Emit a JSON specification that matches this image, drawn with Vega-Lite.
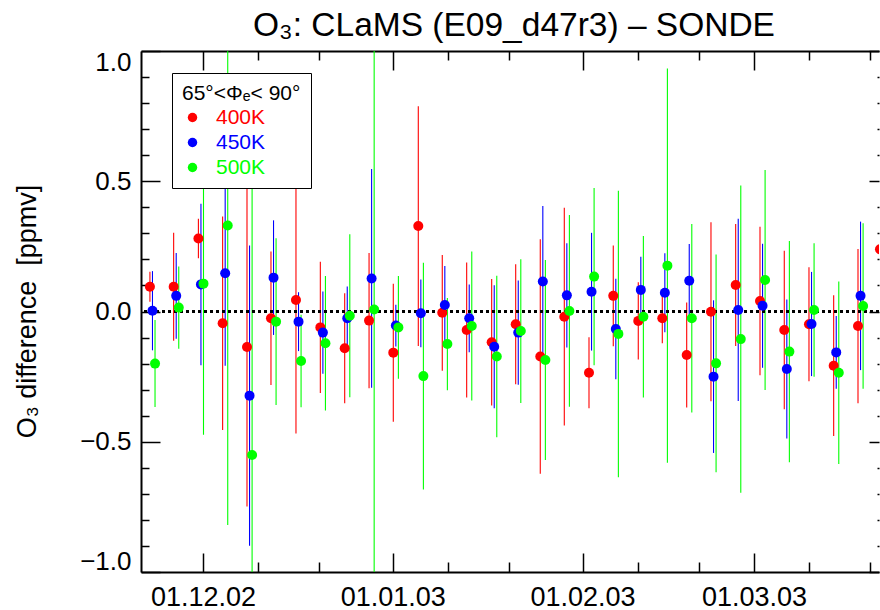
{
  "$schema": "https://vega.github.io/schema/vega-lite/v6.json",
  "width": 738,
  "height": 521,
  "autosize": {"type": "none"},
  "padding": {"left": 141, "top": 51, "right": 1, "bottom": 38},
  "background": "white",
  "title": {"text": "O₃: CLaMS (E09_d47r3) – SONDE", "font": "Liberation Sans", "fontSize": 33.5, "fontWeight": "normal", "color": "black", "anchor": "middle", "frame": "group", "dx": 4, "offset": -20, "baseline": "alphabetic"},
  "config": {
    "view": {"stroke": null},
    "font": "Liberation Sans",
    "axis": {"grid": false, "domainColor": "black", "domainWidth": 2, "tickColor": "black", "tickWidth": 1.5, "labelColor": "black", "titleColor": "black", "labelFont": "Liberation Sans", "titleFont": "Liberation Sans", "titleFontWeight": "normal"}
  },
  "datasets": {
    "obs": [
      {"date": "2002-11-22T08:00:00Z", "level": "400K", "value": 0.095, "lo": 0.037, "hi": 0.153},
      {"date": "2002-11-22T18:00:00Z", "level": "450K", "value": 0.003, "lo": -0.149, "hi": 0.155},
      {"date": "2002-11-23T04:00:00Z", "level": "500K", "value": -0.2, "lo": -0.367, "hi": -0.033},
      {"date": "2002-11-26T05:00:00Z", "level": "400K", "value": 0.095, "lo": -0.112, "hi": 0.302},
      {"date": "2002-11-26T15:00:00Z", "level": "450K", "value": 0.06, "lo": -0.105, "hi": 0.225},
      {"date": "2002-11-27T01:00:00Z", "level": "500K", "value": 0.015, "lo": -0.143, "hi": 0.173},
      {"date": "2002-11-30T06:00:00Z", "level": "400K", "value": 0.28, "lo": 0.204, "hi": 0.356},
      {"date": "2002-11-30T16:00:00Z", "level": "450K", "value": 0.104, "lo": -0.206, "hi": 0.414},
      {"date": "2002-12-01T02:00:00Z", "level": "500K", "value": 0.107, "lo": -0.473, "hi": 0.687},
      {"date": "2002-12-04T05:00:00Z", "level": "400K", "value": -0.045, "lo": -0.455, "hi": 0.365},
      {"date": "2002-12-04T15:00:00Z", "level": "450K", "value": 0.147, "lo": -0.208, "hi": 0.502},
      {"date": "2002-12-05T01:00:00Z", "level": "500K", "value": 0.33, "lo": -0.82, "hi": 1.48},
      {"date": "2002-12-08T04:30:00Z", "level": "400K", "value": -0.136, "lo": -0.749, "hi": 0.477},
      {"date": "2002-12-08T14:30:00Z", "level": "450K", "value": -0.323, "lo": -0.899, "hi": 0.253},
      {"date": "2002-12-09T00:30:00Z", "level": "500K", "value": -0.551, "lo": -1.651, "hi": 0.549},
      {"date": "2002-12-12T02:30:00Z", "level": "400K", "value": -0.026, "lo": -0.282, "hi": 0.23},
      {"date": "2002-12-12T12:30:00Z", "level": "450K", "value": 0.13, "lo": -0.09, "hi": 0.35},
      {"date": "2002-12-12T22:30:00Z", "level": "500K", "value": -0.039, "lo": -0.359, "hi": 0.281},
      {"date": "2002-12-16T04:30:00Z", "level": "400K", "value": 0.044, "lo": -0.468, "hi": 0.556},
      {"date": "2002-12-16T14:30:00Z", "level": "450K", "value": -0.039, "lo": -0.152, "hi": 0.074},
      {"date": "2002-12-17T00:30:00Z", "level": "500K", "value": -0.19, "lo": -0.368, "hi": -0.012},
      {"date": "2002-12-20T04:00:00Z", "level": "400K", "value": -0.061, "lo": -0.313, "hi": 0.191},
      {"date": "2002-12-20T14:00:00Z", "level": "450K", "value": -0.081, "lo": -0.239, "hi": 0.077},
      {"date": "2002-12-21T00:00:00Z", "level": "500K", "value": -0.122, "lo": -0.38, "hi": 0.136},
      {"date": "2002-12-24T03:30:00Z", "level": "400K", "value": -0.141, "lo": -0.352, "hi": 0.07},
      {"date": "2002-12-24T13:30:00Z", "level": "450K", "value": -0.026, "lo": -0.148, "hi": 0.096},
      {"date": "2002-12-24T23:30:00Z", "level": "500K", "value": -0.016, "lo": -0.329, "hi": 0.297},
      {"date": "2002-12-28T03:00:00Z", "level": "400K", "value": -0.035, "lo": -0.295, "hi": 0.225},
      {"date": "2002-12-28T13:00:00Z", "level": "450K", "value": 0.127, "lo": -0.293, "hi": 0.547},
      {"date": "2002-12-28T23:00:00Z", "level": "500K", "value": 0.008, "lo": -1.292, "hi": 1.308},
      {"date": "2003-01-01T02:00:00Z", "level": "400K", "value": -0.158, "lo": -0.423, "hi": 0.107},
      {"date": "2003-01-01T12:00:00Z", "level": "450K", "value": -0.054, "lo": -0.134, "hi": 0.026},
      {"date": "2003-01-01T22:00:00Z", "level": "500K", "value": -0.061, "lo": -0.258, "hi": 0.136},
      {"date": "2003-01-05T04:00:00Z", "level": "400K", "value": 0.328, "lo": -0.132, "hi": 0.788},
      {"date": "2003-01-05T14:00:00Z", "level": "450K", "value": -0.007, "lo": -0.137, "hi": 0.123},
      {"date": "2003-01-06T00:00:00Z", "level": "500K", "value": -0.248, "lo": -0.683, "hi": 0.187},
      {"date": "2003-01-09T02:00:00Z", "level": "400K", "value": -0.005, "lo": -0.227, "hi": 0.217},
      {"date": "2003-01-09T12:00:00Z", "level": "450K", "value": 0.025, "lo": -0.125, "hi": 0.175},
      {"date": "2003-01-09T22:00:00Z", "level": "500K", "value": -0.125, "lo": -0.302, "hi": 0.052},
      {"date": "2003-01-13T01:40:00Z", "level": "400K", "value": -0.071, "lo": -0.33, "hi": 0.188},
      {"date": "2003-01-13T11:40:00Z", "level": "450K", "value": -0.026, "lo": -0.156, "hi": 0.104},
      {"date": "2003-01-13T21:40:00Z", "level": "500K", "value": -0.056, "lo": -0.342, "hi": 0.23},
      {"date": "2003-01-17T03:40:00Z", "level": "400K", "value": -0.118, "lo": -0.361, "hi": 0.125},
      {"date": "2003-01-17T13:40:00Z", "level": "450K", "value": -0.135, "lo": -0.371, "hi": 0.101},
      {"date": "2003-01-17T23:40:00Z", "level": "500K", "value": -0.173, "lo": -0.483, "hi": 0.137},
      {"date": "2003-01-21T01:50:00Z", "level": "400K", "value": -0.049, "lo": -0.279, "hi": 0.181},
      {"date": "2003-01-21T11:50:00Z", "level": "450K", "value": -0.081, "lo": -0.281, "hi": 0.119},
      {"date": "2003-01-21T21:50:00Z", "level": "500K", "value": -0.075, "lo": -0.351, "hi": 0.201},
      {"date": "2003-01-25T02:10:00Z", "level": "400K", "value": -0.173, "lo": -0.623, "hi": 0.277},
      {"date": "2003-01-25T12:10:00Z", "level": "450K", "value": 0.115, "lo": -0.175, "hi": 0.405},
      {"date": "2003-01-25T22:10:00Z", "level": "500K", "value": -0.186, "lo": -0.57, "hi": 0.198},
      {"date": "2003-01-29T00:20:00Z", "level": "400K", "value": -0.02, "lo": -0.438, "hi": 0.398},
      {"date": "2003-01-29T10:20:00Z", "level": "450K", "value": 0.062, "lo": -0.138, "hi": 0.262},
      {"date": "2003-01-29T20:20:00Z", "level": "500K", "value": 0.002, "lo": -0.366, "hi": 0.37},
      {"date": "2003-02-02T01:10:00Z", "level": "400K", "value": -0.235, "lo": -0.371, "hi": -0.099},
      {"date": "2003-02-02T11:10:00Z", "level": "450K", "value": 0.076, "lo": -0.15, "hi": 0.302},
      {"date": "2003-02-02T21:10:00Z", "level": "500K", "value": 0.134, "lo": -0.206, "hi": 0.474},
      {"date": "2003-02-06T00:20:00Z", "level": "400K", "value": 0.06, "lo": -0.133, "hi": 0.253},
      {"date": "2003-02-06T10:20:00Z", "level": "450K", "value": -0.067, "lo": -0.26, "hi": 0.126},
      {"date": "2003-02-06T20:20:00Z", "level": "500K", "value": -0.086, "lo": -0.636, "hi": 0.464},
      {"date": "2003-02-10T02:20:00Z", "level": "400K", "value": -0.036, "lo": -0.184, "hi": 0.112},
      {"date": "2003-02-10T12:20:00Z", "level": "450K", "value": 0.083, "lo": -0.044, "hi": 0.21},
      {"date": "2003-02-10T22:20:00Z", "level": "500K", "value": -0.02, "lo": -0.33, "hi": 0.29},
      {"date": "2003-02-14T00:30:00Z", "level": "400K", "value": -0.026, "lo": -0.122, "hi": 0.07},
      {"date": "2003-02-14T10:30:00Z", "level": "450K", "value": 0.072, "lo": -0.08, "hi": 0.224},
      {"date": "2003-02-14T20:30:00Z", "level": "500K", "value": 0.176, "lo": -0.581, "hi": 0.933},
      {"date": "2003-02-18T00:10:00Z", "level": "400K", "value": -0.167, "lo": -0.369, "hi": 0.035},
      {"date": "2003-02-18T10:10:00Z", "level": "450K", "value": 0.118, "lo": -0.023, "hi": 0.259},
      {"date": "2003-02-18T20:10:00Z", "level": "500K", "value": -0.026, "lo": -0.388, "hi": 0.336},
      {"date": "2003-02-21T23:20:00Z", "level": "400K", "value": -0.001, "lo": -0.345, "hi": 0.343},
      {"date": "2003-02-22T09:20:00Z", "level": "450K", "value": -0.25, "lo": -0.543, "hi": 0.043},
      {"date": "2003-02-22T19:20:00Z", "level": "500K", "value": -0.199, "lo": -0.617, "hi": 0.219},
      {"date": "2003-02-26T00:10:00Z", "level": "400K", "value": 0.102, "lo": -0.132, "hi": 0.336},
      {"date": "2003-02-26T10:10:00Z", "level": "450K", "value": 0.006, "lo": -0.344, "hi": 0.356},
      {"date": "2003-02-26T20:10:00Z", "level": "500K", "value": -0.106, "lo": -0.696, "hi": 0.484},
      {"date": "2003-03-01T23:30:00Z", "level": "400K", "value": 0.04, "lo": -0.245, "hi": 0.325},
      {"date": "2003-03-02T09:30:00Z", "level": "450K", "value": 0.022, "lo": -0.216, "hi": 0.26},
      {"date": "2003-03-02T19:30:00Z", "level": "500K", "value": 0.121, "lo": -0.301, "hi": 0.543},
      {"date": "2003-03-05T22:40:00Z", "level": "400K", "value": -0.071, "lo": -0.375, "hi": 0.233},
      {"date": "2003-03-06T08:40:00Z", "level": "450K", "value": -0.221, "lo": -0.488, "hi": 0.046},
      {"date": "2003-03-06T18:40:00Z", "level": "500K", "value": -0.154, "lo": -0.579, "hi": 0.271},
      {"date": "2003-03-09T23:30:00Z", "level": "400K", "value": -0.049, "lo": -0.268, "hi": 0.17},
      {"date": "2003-03-10T09:30:00Z", "level": "450K", "value": -0.048, "lo": -0.248, "hi": 0.152},
      {"date": "2003-03-10T19:30:00Z", "level": "500K", "value": 0.006, "lo": -0.25, "hi": 0.262},
      {"date": "2003-03-14T00:20:00Z", "level": "400K", "value": -0.208, "lo": -0.478, "hi": 0.062},
      {"date": "2003-03-14T10:20:00Z", "level": "450K", "value": -0.157, "lo": -0.297, "hi": -0.017},
      {"date": "2003-03-14T20:20:00Z", "level": "500K", "value": -0.235, "lo": -0.585, "hi": 0.115},
      {"date": "2003-03-17T23:40:00Z", "level": "400K", "value": -0.056, "lo": -0.352, "hi": 0.24},
      {"date": "2003-03-18T09:40:00Z", "level": "450K", "value": 0.06, "lo": -0.225, "hi": 0.345},
      {"date": "2003-03-18T19:40:00Z", "level": "500K", "value": 0.021, "lo": -0.297, "hi": 0.339},
      {"date": "2003-03-21T13:50:00Z", "level": "400K", "value": 0.239, "lo": 0.04, "hi": 0.44}
    ]
  },
  "data": {"name": "obs"},
  "layer": [
    {
      "transform": [{"filter": "datum.level == '400K'"}],
      "mark": {"type": "rule", "strokeWidth": 1.1, "clip": true, "color": "#ff0000"},
      "encoding": {
        "x": {"field": "date", "type": "temporal",
          "scale": {"type": "utc", "domain": [{"year": 2002, "month": 11, "date": 20, "hours": 21, "utc": true}, {"year": 2003, "month": 3, "date": 21, "hours": 10, "utc": true}], "nice": false},
          "axis": {"orient": "bottom", "title": null, "values": [{"year": 2002, "month": 12, "date": 1, "utc": true}, {"year": 2003, "month": 1, "date": 1, "utc": true}, {"year": 2003, "month": 2, "date": 1, "utc": true}, {"year": 2003, "month": 3, "date": 1, "utc": true}], "labelExpr": "utcFormat(datum.value, '%d.%m.%y')", "tickSize": -19, "labelPadding": 31, "labelFontSize": 27, "labelFlush": false, "labelOverlap": false, "domain": true}},
        "y": {"field": "lo", "type": "quantitative",
          "scale": {"domain": [-1, 1], "nice": false, "zero": false},
          "axis": {"orient": "left", "values": [-1, -0.5, 0, 0.5, 1], "format": ".1f", "tickSize": -19, "labelPadding": 29, "labelFontSize": 26, "labelFlush": true, "labelFlushOffset": 2, "labelOverlap": false, "domain": true,
            "title": "O₃ difference\u00a0 [ppmv]", "titleFontSize": 27, "titleX": -106, "titleY": 260, "titleAngle": -90, "titleBaseline": "alphabetic", "titleAlign": "center"}},
        "y2": {"field": "hi"}
      }
    },
    {
      "transform": [{"filter": "datum.level == '450K'"}],
      "mark": {"type": "rule", "strokeWidth": 1.1, "clip": true, "color": "#0000ff"},
      "encoding": {
        "x": {"field": "date", "type": "temporal", "scale": {"type": "utc", "domain": [{"year": 2002, "month": 11, "date": 20, "hours": 21, "utc": true}, {"year": 2003, "month": 3, "date": 21, "hours": 10, "utc": true}], "nice": false}, "axis": null},
        "y": {"field": "lo", "type": "quantitative", "scale": {"domain": [-1, 1], "nice": false, "zero": false}, "axis": null},
        "y2": {"field": "hi"}
      }
    },
    {
      "transform": [{"filter": "datum.level == '500K'"}],
      "mark": {"type": "rule", "strokeWidth": 1.1, "clip": true, "color": "#00ff00"},
      "encoding": {
        "x": {"field": "date", "type": "temporal", "scale": {"type": "utc", "domain": [{"year": 2002, "month": 11, "date": 20, "hours": 21, "utc": true}, {"year": 2003, "month": 3, "date": 21, "hours": 10, "utc": true}], "nice": false}, "axis": null},
        "y": {"field": "lo", "type": "quantitative", "scale": {"domain": [-1, 1], "nice": false, "zero": false}, "axis": null},
        "y2": {"field": "hi"}
      }
    },
    {
      "data": {"values": [{}]},
      "mark": {"type": "rule", "color": "black", "strokeWidth": 3, "strokeDash": [3, 3]},
      "encoding": {
        "y": {"datum": 0, "type": "quantitative", "scale": {"domain": [-1, 1], "nice": false, "zero": false}, "axis": null}
      }
    },
    {
      "mark": {"type": "circle", "size": 100, "opacity": 1, "clip": true},
      "encoding": {
        "x": {"field": "date", "type": "temporal",
          "scale": {"type": "utc", "domain": [{"year": 2002, "month": 11, "date": 20, "hours": 21, "utc": true}, {"year": 2003, "month": 3, "date": 21, "hours": 10, "utc": true}], "nice": false},
          "axis": {"orient": "top", "title": null, "labels": false, "values": [{"year": 2002, "month": 12, "date": 1, "utc": true}, {"year": 2003, "month": 1, "date": 1, "utc": true}, {"year": 2003, "month": 2, "date": 1, "utc": true}, {"year": 2003, "month": 3, "date": 1, "utc": true}], "tickSize": -19, "domain": true}},
        "y": {"field": "value", "type": "quantitative",
          "scale": {"domain": [-1, 1], "nice": false, "zero": false},
          "axis": {"orient": "right", "title": null, "labels": false, "values": [-1, -0.5, 0, 0.5, 1], "tickSize": -10, "domain": false}},
        "color": {"field": "level", "type": "nominal", "scale": {"domain": ["400K", "450K", "500K"], "range": ["#ff0000", "#0000ff", "#00ff00"]},
          "legend": {"orient": "none", "legendX": 31, "legendY": 22, "title": "65°<Φₑ< 90°", "titleFont": "Liberation Sans", "titleFontSize": 21, "titleFontWeight": "normal", "titleColor": "black", "titleAnchor": "start", "titlePadding": 3,
            "labelFont": "Liberation Sans", "labelFontSize": 21, "labelOffset": 13, "labelColor": {"expr": "scale('color', datum.value)"}, "symbolType": "circle", "symbolSize": 90, "symbolStrokeWidth": 0, "rowPadding": 3,
            "padding": 10, "strokeColor": "black", "fillColor": "white"}}
      }
    },
    {
      "mark": {"type": "point", "opacity": 0},
      "encoding": {
        "x": {"field": "date", "type": "temporal",
          "scale": {"type": "utc", "domain": [{"year": 2002, "month": 11, "date": 20, "hours": 21, "utc": true}, {"year": 2003, "month": 3, "date": 21, "hours": 10, "utc": true}], "nice": false},
          "axis": {"orient": "bottom", "title": null, "labels": false, "domain": false, "tickSize": -10, "values": [{"year": 2002, "month": 12, "date": 10, "utc": true}, {"year": 2002, "month": 12, "date": 20, "utc": true}, {"year": 2003, "month": 1, "date": 10, "utc": true}, {"year": 2003, "month": 1, "date": 20, "utc": true}, {"year": 2003, "month": 2, "date": 10, "utc": true}, {"year": 2003, "month": 2, "date": 20, "utc": true}, {"year": 2003, "month": 3, "date": 10, "utc": true}, {"year": 2003, "month": 3, "date": 20, "utc": true}]}},
        "y": {"field": "value", "type": "quantitative",
          "scale": {"domain": [-1, 1], "nice": false, "zero": false},
          "axis": {"orient": "left", "title": null, "labels": false, "domain": false, "tickSize": -8, "values": [-0.9, -0.8, -0.7, -0.6, -0.4, -0.3, -0.2, -0.1, 0.1, 0.2, 0.3, 0.4, 0.6, 0.7, 0.8, 0.9]}}
      }
    },
    {
      "mark": {"type": "point", "opacity": 0},
      "encoding": {
        "x": {"field": "date", "type": "temporal",
          "scale": {"type": "utc", "domain": [{"year": 2002, "month": 11, "date": 20, "hours": 21, "utc": true}, {"year": 2003, "month": 3, "date": 21, "hours": 10, "utc": true}], "nice": false},
          "axis": {"orient": "top", "title": null, "labels": false, "domain": false, "tickSize": -9, "values": [{"year": 2002, "month": 12, "date": 10, "utc": true}, {"year": 2002, "month": 12, "date": 20, "utc": true}, {"year": 2003, "month": 1, "date": 10, "utc": true}, {"year": 2003, "month": 1, "date": 20, "utc": true}, {"year": 2003, "month": 2, "date": 10, "utc": true}, {"year": 2003, "month": 2, "date": 20, "utc": true}, {"year": 2003, "month": 3, "date": 10, "utc": true}, {"year": 2003, "month": 3, "date": 20, "utc": true}]}},
        "y": {"field": "value", "type": "quantitative",
          "scale": {"domain": [-1, 1], "nice": false, "zero": false},
          "axis": {"orient": "right", "title": null, "labels": false, "domain": false, "tickSize": -2, "values": [-0.9, -0.8, -0.7, -0.6, -0.4, -0.3, -0.2, -0.1, 0.1, 0.2, 0.3, 0.4, 0.6, 0.7, 0.8, 0.9]}}
      }
    }
  ],
  "resolve": {"axis": {"x": "independent", "y": "independent"}}
}
